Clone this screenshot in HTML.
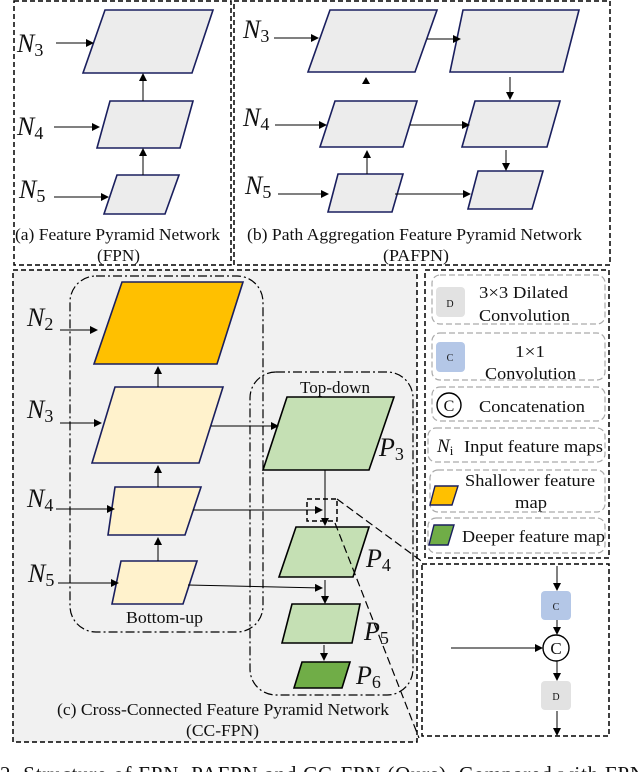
<!DOCTYPE html>
<html><head><meta charset="utf-8"><style>
html,body{margin:0;padding:0;background:#fff;}
svg{display:block;}
text{font-family:"Liberation Serif",serif;fill:#111;}
.it{font-style:italic;}
</style></head><body>
<svg width="638" height="772" viewBox="0 0 638 772" xmlns="http://www.w3.org/2000/svg">
<defs>
<marker id="a" markerWidth="8" markerHeight="8" refX="7" refY="4" orient="auto" markerUnits="userSpaceOnUse"><path d="M0,0 L8,4 L0,8 z" fill="#000"/></marker>
</defs>
<g stroke="#000" stroke-width="1.5" fill="none" stroke-dasharray="5,3">
<rect x="14" y="1" width="217" height="264"/>
<rect x="234" y="1" width="376" height="264"/>
</g>
<g stroke="#1a1f5e" stroke-width="1.6" fill="#ececec">
<polygon points="105,10 213,10 192,73 83,73"/>
<polygon points="110,101 193,101 180,148 97,148"/>
<polygon points="117,175 179,175 165,214 104,214"/>
<polygon points="330,10 437,10 415,72 308,72"/>
<polygon points="463,10 579,10 563,72 450,72"/>
<polygon points="335,101 417,101 403,147 320,147"/>
<polygon points="475,101 560,101 547,147 462,147"/>
<polygon points="338,174 403,174 392,212 328,212"/>
<polygon points="478,171 543,171 532,209 468,209"/>
</g>
<g stroke="#000" stroke-width="1" marker-end="url(#a)">
<line x1="56" y1="43" x2="93" y2="43"/>
<line x1="54" y1="127" x2="99" y2="127"/>
<line x1="54" y1="197" x2="108" y2="197"/>
<line x1="143" y1="175" x2="143" y2="149"/>
<line x1="143" y1="101" x2="143" y2="74"/>
<line x1="274" y1="38" x2="318" y2="38"/>
<line x1="427" y1="39" x2="460" y2="39"/>
<line x1="510" y1="77" x2="510" y2="99"/>
<line x1="275" y1="125" x2="326" y2="125"/>
<line x1="410" y1="125" x2="469" y2="125"/>
<line x1="506" y1="150" x2="506" y2="170"/>
<line x1="278" y1="194" x2="328" y2="194"/>
<line x1="395" y1="194" x2="470" y2="194"/>
<line x1="367" y1="174" x2="367" y2="151"/>
</g>
<path d="M362,84 L370,84 L366,77 z" fill="#000"/>
<g font-size="26">
<text x="17" y="52" class="it">N<tspan font-size="18" dy="4" font-style="normal">3</tspan></text>
<text x="17" y="135" class="it">N<tspan font-size="18" dy="4" font-style="normal">4</tspan></text>
<text x="19" y="198" class="it">N<tspan font-size="18" dy="4" font-style="normal">5</tspan></text>
<text x="243" y="38" class="it">N<tspan font-size="18" dy="4" font-style="normal">3</tspan></text>
<text x="243" y="126" class="it">N<tspan font-size="18" dy="4" font-style="normal">4</tspan></text>
<text x="245" y="194" class="it">N<tspan font-size="18" dy="4" font-style="normal">5</tspan></text>
</g>
<g font-size="17">
<text x="15" y="240" textLength="205" lengthAdjust="spacingAndGlyphs">(a) Feature Pyramid Network</text>
<text x="97" y="261" textLength="43" lengthAdjust="spacingAndGlyphs">(FPN)</text>
<text x="247" y="240" textLength="335" lengthAdjust="spacingAndGlyphs">(b) Path Aggregation Feature Pyramid Network</text>
<text x="383" y="261" textLength="66" lengthAdjust="spacingAndGlyphs">(PAFPN)</text>
</g>
<rect x="13" y="270" width="404" height="472" fill="#f1f1f1" stroke="#000" stroke-width="1.5" stroke-dasharray="5,3"/>
<g stroke="#000" stroke-width="1.2" fill="none" stroke-dasharray="9,3,2,3">
<rect x="70" y="276" width="193" height="356" rx="26"/>
<rect x="250" y="372" width="163" height="323" rx="26"/>
</g>
<g stroke="#1a1f5e" stroke-width="1.6">
<polygon points="122,282 243,282 217,364 94,364" fill="#ffc000"/>
<polygon points="115,387 223,387 199,463 92,463" fill="#fff2cc"/>
<polygon points="115,487 201,487 185,535 108,535" fill="#fff2cc"/>
<polygon points="121,561 197,561 183,604 112,604" fill="#fff2cc"/>
</g>
<g stroke="#000" stroke-width="1.6">
<polygon points="287,397 394,397 369,470 263,470" fill="#c5e0b4"/>
<polygon points="296,527 369,527 353,577 279,577" fill="#c5e0b4"/>
<polygon points="292,604 360,604 352,643 282,643" fill="#c5e0b4"/>
<polygon points="302,662 350,662 342,688 294,688" fill="#70ad47"/>
</g>
<g stroke="#000" stroke-width="1" marker-end="url(#a)">
<line x1="60" y1="330" x2="97" y2="330"/>
<line x1="60" y1="423" x2="101" y2="423"/>
<line x1="56" y1="509" x2="114" y2="509"/>
<line x1="58" y1="583" x2="118" y2="583"/>
<line x1="158" y1="387" x2="158" y2="367"/>
<line x1="158" y1="487" x2="158" y2="466"/>
<line x1="158" y1="561" x2="158" y2="538"/>
<line x1="211" y1="426" x2="278" y2="426"/>
<line x1="193" y1="510" x2="322" y2="510"/>
<line x1="325" y1="470" x2="325" y2="525"/>
<line x1="188" y1="585" x2="322" y2="588"/>
<line x1="325" y1="580" x2="325" y2="603"/>
<line x1="324" y1="645" x2="324" y2="660"/>
</g>
<rect x="307" y="499" width="30" height="22" fill="none" stroke="#000" stroke-width="1.5" stroke-dasharray="5,3"/>
<g stroke="#000" stroke-width="1.2" stroke-dasharray="8,4" fill="none">
<line x1="337" y1="499" x2="424" y2="563"/>
<line x1="335" y1="523" x2="419" y2="738"/>
</g>
<g font-size="26">
<text x="27" y="326" class="it">N<tspan font-size="18" dy="4" font-style="normal">2</tspan></text>
<text x="27" y="418" class="it">N<tspan font-size="18" dy="4" font-style="normal">3</tspan></text>
<text x="27" y="507" class="it">N<tspan font-size="18" dy="4" font-style="normal">4</tspan></text>
<text x="28" y="582" class="it">N<tspan font-size="18" dy="4" font-style="normal">5</tspan></text>
<text x="379" y="456" class="it">P<tspan font-size="18" dy="4" font-style="normal">3</tspan></text>
<text x="366" y="567" class="it">P<tspan font-size="18" dy="4" font-style="normal">4</tspan></text>
<text x="364" y="640" class="it">P<tspan font-size="18" dy="4" font-style="normal">5</tspan></text>
<text x="356" y="684" class="it">P<tspan font-size="18" dy="4" font-style="normal">6</tspan></text>
</g>
<g font-size="17">
<text x="300" y="393" textLength="70" lengthAdjust="spacingAndGlyphs">Top-down</text>
<text x="126" y="623" textLength="77" lengthAdjust="spacingAndGlyphs">Bottom-up</text>
<text x="57" y="715" textLength="332" lengthAdjust="spacingAndGlyphs">(c) Cross-Connected Feature Pyramid Network</text>
<text x="186" y="736" textLength="73" lengthAdjust="spacingAndGlyphs">(CC-FPN)</text>
</g>
<rect x="425" y="270" width="184" height="288" fill="none" stroke="#000" stroke-width="1.5" stroke-dasharray="5,3"/>
<g fill="none" stroke="#aaa" stroke-width="1.2" stroke-dasharray="6,3">
<rect x="432" y="275" width="173" height="49" rx="8"/>
<rect x="432" y="333" width="173" height="47" rx="8"/>
<rect x="432" y="387" width="173" height="34" rx="8"/>
<rect x="428" y="428" width="177" height="34" rx="8"/>
<rect x="430" y="470" width="175" height="42" rx="8"/>
<rect x="428" y="518" width="177" height="35" rx="8"/>
</g>
<rect x="436" y="287" width="29" height="30" rx="4" fill="#e2e2e2"/>
<text x="450" y="307" font-size="10" text-anchor="middle">D</text>
<rect x="436" y="342" width="29" height="30" rx="4" fill="#b4c7e7"/>
<text x="450" y="361" font-size="10" text-anchor="middle">C</text>
<circle cx="449" cy="405" r="12" fill="none" stroke="#000" stroke-width="1.4"/>
<text x="449" y="411" font-size="16" text-anchor="middle">C</text>
<polygon points="435,486 458,486 452,505 430,505" fill="#ffc000" stroke="#1a1f5e" stroke-width="1.4"/>
<polygon points="434,525 454,525 448,545 429,545" fill="#70ad47" stroke="#1a1f5e" stroke-width="1.4"/>
<g font-size="17">
<text x="479" y="298" textLength="89" lengthAdjust="spacingAndGlyphs">3×3 Dilated</text>
<text x="479" y="321" textLength="91" lengthAdjust="spacingAndGlyphs">Convolution</text>
<text x="515" y="357" textLength="30" lengthAdjust="spacingAndGlyphs">1×1</text>
<text x="485" y="379" textLength="91" lengthAdjust="spacingAndGlyphs">Convolution</text>
<text x="479" y="412" textLength="106" lengthAdjust="spacingAndGlyphs">Concatenation</text>
<text x="437" y="452" class="it" font-size="19">N<tspan font-size="13" dy="3" font-style="normal">i</tspan></text>
<text x="464" y="452" textLength="139" lengthAdjust="spacingAndGlyphs">Input feature maps</text>
<text x="465" y="486" textLength="130" lengthAdjust="spacingAndGlyphs">Shallower feature</text>
<text x="515" y="508" textLength="32" lengthAdjust="spacingAndGlyphs">map</text>
<text x="462" y="542" textLength="143" lengthAdjust="spacingAndGlyphs">Deeper feature map</text>
</g>
<rect x="422" y="564" width="187" height="172" fill="none" stroke="#000" stroke-width="1.5" stroke-dasharray="5,3"/>
<rect x="541" y="591" width="30" height="29" rx="4" fill="#b4c7e7"/>
<text x="556" y="610" font-size="10" text-anchor="middle">C</text>
<rect x="541" y="681" width="30" height="29" rx="4" fill="#e2e2e2"/>
<text x="556" y="700" font-size="10" text-anchor="middle">D</text>
<circle cx="556" cy="648" r="13" fill="#fff" stroke="#000" stroke-width="1.4"/>
<text x="556" y="654" font-size="17" text-anchor="middle">C</text>
<g stroke="#000" stroke-width="1" marker-end="url(#a)">
<line x1="557" y1="566" x2="557" y2="590"/>
<line x1="557" y1="620" x2="557" y2="634"/>
<line x1="451" y1="648" x2="542" y2="648"/>
<line x1="557" y1="661" x2="557" y2="680"/>
<line x1="557" y1="711" x2="557" y2="735"/>
</g>
<text x="0" y="781" font-size="21" textLength="645" lengthAdjust="spacing">2.  Structure of FPN, PAFPN and CC-FPN (Ours). Compared with FPN</text>
</svg>
</body></html>
